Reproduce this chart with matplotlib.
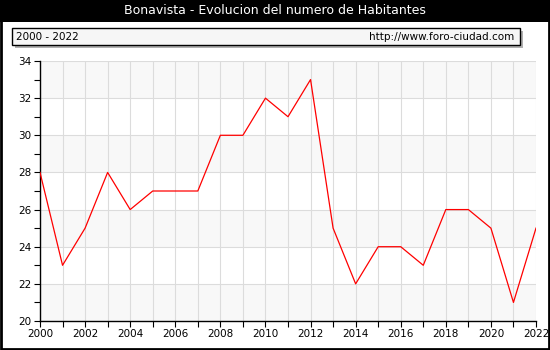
"""Bonavista - population evolution chart, 2000-2022."""

import matplotlib

matplotlib.use("Agg")
import matplotlib.pyplot as plt
from matplotlib.patches import Rectangle
from matplotlib.ticker import MultipleLocator

years = list(range(2000, 2023))
habitantes = [28, 23, 25, 28, 26, 27, 27, 27, 30, 30, 32, 31, 33,
              25, 22, 24, 24, 23, 26, 26, 25, 21, 25]
title = "Bonavista - Evolucion del numero de Habitantes"
period = "2000 - 2022"
site = "http://www.foro-ciudad.com"

W, H = 550, 350
fig = plt.figure(figsize=(W / 100, H / 100), dpi=100)
fig.patch.set_facecolor("white")


def fx(px):
    return px / W


def fy(py):
    return 1 - py / H


# title bar
fig.patches.append(Rectangle((0, fy(22)), 1, 22 / H, transform=fig.transFigure,
                             facecolor="black", edgecolor="none", zorder=0))
fig.text(0.5, fy(11), title, color="white", ha="center", va="center", fontsize=9)

# header box with shadow
fig.patches.append(Rectangle((fx(15), fy(48)), fx(508), 17 / H, transform=fig.transFigure,
                             facecolor="#b0b0b0", edgecolor="none", zorder=1))
fig.patches.append(Rectangle((fx(12), fy(45)), fx(508), 17 / H, transform=fig.transFigure,
                             facecolor="#f6f6f6", edgecolor="black", linewidth=1, zorder=2))
fig.text(fx(16), fy(36.5), period, ha="left", va="center", fontsize=7.5, zorder=3)
fig.text(fx(514), fy(36.5), site, ha="right", va="center", fontsize=7.5, zorder=3)

# outer border
fig.patches.append(Rectangle((0.002, 0.003), 0.996, 0.994, transform=fig.transFigure,
                             facecolor="none", edgecolor="black", linewidth=2, zorder=5))

ax = fig.add_axes([fx(40), fy(321), fx(496), (321 - 61) / H])
ax.set_xlim(2000, 2022)
ax.set_ylim(20, 34)

for y0 in range(20, 34, 4):
    ax.axhspan(y0, y0 + 2, color="#f8f8f8", zorder=0, linewidth=0)

ax.xaxis.set_major_locator(MultipleLocator(2))
ax.xaxis.set_minor_locator(MultipleLocator(1))
ax.yaxis.set_major_locator(MultipleLocator(2))
ax.yaxis.set_minor_locator(MultipleLocator(1))
ax.grid(True, which="major", axis="y", color="#dcdcdc", linewidth=0.8, zorder=1)
ax.grid(True, which="both", axis="x", color="#dcdcdc", linewidth=0.8, zorder=1)

ax.plot(years, habitantes, color="red", linewidth=0.9, zorder=3)

for side in ("top", "right"):
    ax.spines[side].set_visible(False)
for side in ("left", "bottom"):
    ax.spines[side].set_linewidth(1)
ax.tick_params(which="both", direction="out", length=4, width=0.8, labelsize=7.5, pad=2)
ax.tick_params(which="minor", length=4)

fig.savefig("out.png", dpi=100)
